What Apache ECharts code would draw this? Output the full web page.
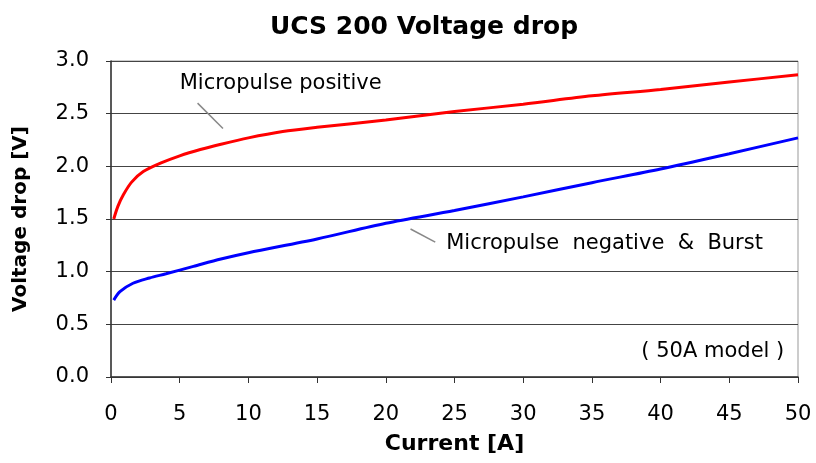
<!DOCTYPE html>
<html>
<head>
<meta charset="utf-8">
<script src="https://cdn.jsdelivr.net/npm/echarts@6/dist/echarts.min.js"></script>
<style>
  html, body { margin: 0; padding: 0; background: #fff; }
  #chart { width: 816px; height: 463px; }
</style>
</head>
<body>
<div id="chart"></div>
<script>
  // curve values: [current A, voltage V]
  const positiveX = [0.2, 0.5, 0.9, 1.5, 2.35, 3.6, 5, 6.5, 8, 10, 12.5, 15, 20, 25, 30, 35, 40, 45, 50];
  const positiveY = [1.50, 1.62, 1.73, 1.85, 1.95, 2.03, 2.10, 2.16, 2.21, 2.27, 2.33, 2.37, 2.44, 2.52, 2.59, 2.67, 2.73, 2.80, 2.87];

  const negativeX = [0.2, 0.65, 1.6, 2.8, 4, 6, 8, 10, 15, 20, 25, 30, 35, 40, 45, 50];
  const negativeY = [0.73, 0.81, 0.89, 0.94, 0.98, 1.05, 1.12, 1.18, 1.31, 1.46, 1.58, 1.71, 1.845, 1.975, 2.12, 2.27];

  const xTicks = [0, 5, 10, 15, 20, 25, 30, 35, 40, 45, 50];
  const yTicks = [0.0, 0.5, 1.0, 1.5, 2.0, 2.5, 3.0];

  const pair = (xs, ys) => xs.map((x, i) => [x, ys[i]]);

  const font = 'DejaVu Sans';
  let myChart = echarts.init(document.getElementById('chart'));

  let option = {
    animation: false,
    title: {
      text: 'UCS 200 Voltage drop',
      left: 419,
      top: 10,
      textAlign: 'center',
      textStyle: { fontFamily: font, fontWeight: 'bold', fontSize: 25, color: '#000' }
    },
    grid: {
      left: 111,
      right: 18,
      top: 61,
      bottom: 86,
      show: true,
      borderColor: '#999',
      borderWidth: 1
    },
    xAxis: {
      type: 'value',
      min: xTicks[0],
      max: xTicks[xTicks.length - 1],
      interval: 5,
      name: 'Current [A]',
      nameLocation: 'middle',
      nameGap: 56,
      nameTextStyle: { fontFamily: font, fontWeight: 'bold', fontSize: 22, color: '#000' },
      axisLine: { lineStyle: { color: '#333', width: 1.5 } },
      axisTick: { show: true, length: 6, lineStyle: { color: '#333' } },
      axisLabel: { fontFamily: font, fontSize: 21, color: '#000', margin: 27 },
      splitLine: { show: false }
    },
    yAxis: {
      type: 'value',
      min: yTicks[0],
      max: yTicks[yTicks.length - 1],
      interval: 0.5,
      name: 'Voltage drop [V]',
      nameLocation: 'middle',
      nameGap: 80,
      nameTextStyle: { fontFamily: font, fontWeight: 'bold', fontSize: 20, color: '#000' },
      axisLine: { show: true, lineStyle: { color: '#333', width: 1.5 } },
      axisTick: { show: true, length: 5, lineStyle: { color: '#333' } },
      axisLabel: {
        fontFamily: font, fontSize: 21, color: '#000', margin: 22,
        formatter: v => v.toFixed(1)
      },
      splitLine: { show: true, lineStyle: { color: '#444', width: 1.2 } }
    },
    series: [{
      name: 'Micropulse positive',
      type: 'line',
      smooth: 0.3,
      showSymbol: false,
      lineStyle: { color: '#ff0000', width: 3 },
      itemStyle: { color: '#ff0000' },
      data: pair(positiveX, positiveY),
      markLine: {
        silent: true,
        symbol: 'none',
        label: { show: false },
        lineStyle: { color: '#888', type: 'solid', width: 1.5 },
        data: [[{ coord: [6.3, 2.60] }, { coord: [8.15, 2.36] }]]
      }
    }, {
      name: 'Micropulse negative & Burst',
      type: 'line',
      smooth: 0.3,
      showSymbol: false,
      lineStyle: { color: '#0000ff', width: 3 },
      itemStyle: { color: '#0000ff' },
      data: pair(negativeX, negativeY),
      markLine: {
        silent: true,
        symbol: 'none',
        label: { show: false },
        lineStyle: { color: '#888', type: 'solid', width: 1.5 },
        data: [[{ coord: [21.8, 1.405] }, { coord: [23.6, 1.28] }]]
      }
    }]
  };

  myChart.setOption(option);

  // text notes, placed in data coordinates
  const note = (text, x, y, align) => {
    const p = myChart.convertToPixel({ gridIndex: 0 }, [x, y]);
    return {
      type: 'text',
      x: p[0],
      y: p[1],
      style: {
        text: text,
        fontFamily: font,
        fontSize: 21,
        fill: '#000',
        align: align,
        verticalAlign: 'middle'
      }
    };
  };

  myChart.setOption({
    graphic: [
      note('Micropulse positive', 5.0, 2.79, 'left'),
      note('Micropulse  negative  &  Burst', 24.4, 1.27, 'left'),
      note('( 50A model )', 49.0, 0.24, 'right')
    ]
  });
</script>
</body>
</html>
